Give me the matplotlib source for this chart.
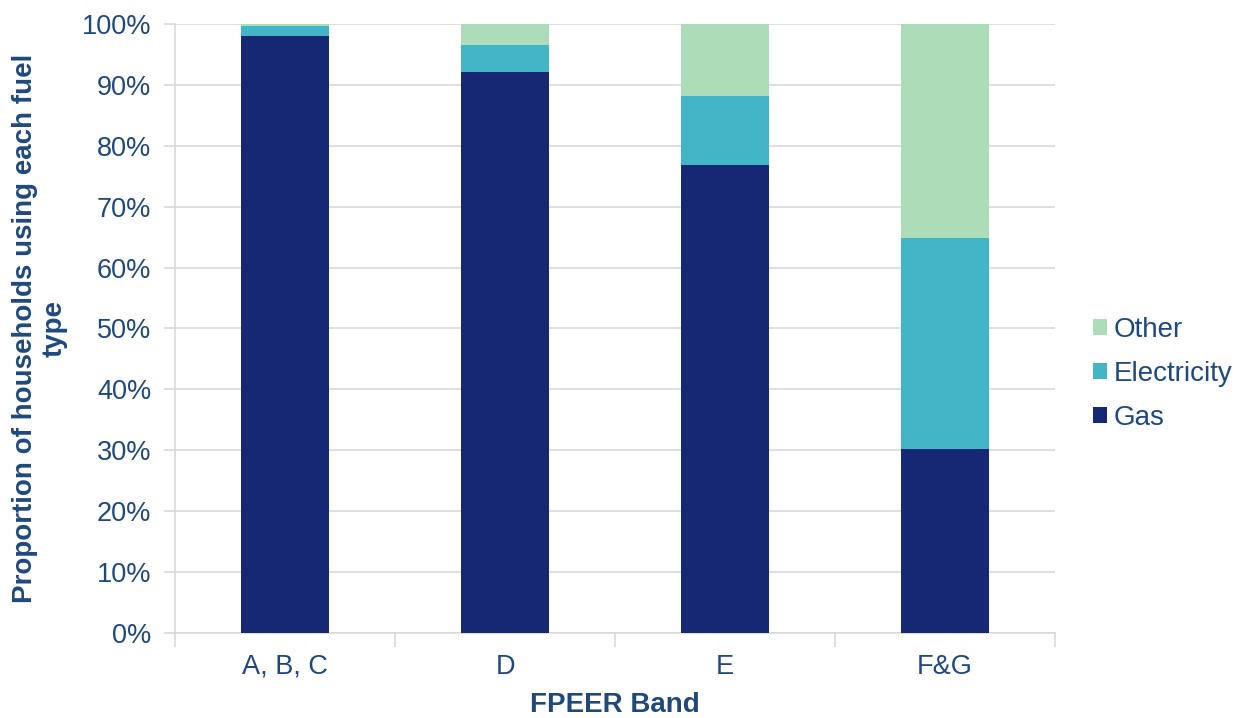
import numpy as np
import matplotlib
matplotlib.use('Agg')
import matplotlib.pyplot as plt
import matplotlib.ticker as ticker

bands = ['A, B, C', 'D', 'E', 'F&G']
gas = [98.1, 92.1, 76.8, 30.2]
electricity = [1.6, 4.4, 11.3, 34.7]
other = [0.3, 3.5, 11.9, 35.1]

c_gas = '#162873'
c_elec = '#42B6C6'
c_other = '#ACDDB8'
txt = '#1F497D'
grid = '#D9D9D9'

plt.rcParams['font.family'] = ['Liberation Sans', 'DejaVu Sans']

fig = plt.figure(figsize=(12.48, 7.18), dpi=100)
ax = fig.add_axes([0.1402, 0.1184, 0.7052, 0.8482])

x = np.arange(len(bands))
gas = np.array(gas)
electricity = np.array(electricity)
other = np.array(other)
w = 0.4
ax.bar(x, gas, w, color=c_gas, label='Gas', zorder=3)
ax.bar(x, electricity, w, bottom=gas, color=c_elec, label='Electricity', zorder=3)
ax.bar(x, other, w, bottom=gas + electricity, color=c_other, label='Other', zorder=3)

ax.set_xlim(-0.5, len(bands) - 0.5)
ax.set_ylim(0, 100)
ax.yaxis.set_major_locator(ticker.MultipleLocator(10))
ax.yaxis.set_major_formatter(ticker.FuncFormatter(lambda v, p: '%d%%' % v))
ax.set_xticks(x)
ax.set_xticklabels(bands)
ax.xaxis.set_minor_locator(ticker.FixedLocator(np.arange(-0.5, len(bands), 1)))
ax.tick_params(axis='x', which='major', length=0, pad=15, labelsize=19.5, labelcolor=txt)
ax.tick_params(axis='x', which='minor', length=10, color=grid, width=1.2)
ax.tick_params(axis='y', length=8, color=grid, width=1.2, pad=9, labelsize=19.5, labelcolor=txt)

ax.grid(axis='y', color=grid, linewidth=1.2, zorder=0)
for s in ['top', 'right']:
    ax.spines[s].set_visible(False)
for s in ['left', 'bottom']:
    ax.spines[s].set_color(grid)
    ax.spines[s].set_linewidth(1.2)

ax.set_ylabel('Proportion of households using each fuel\ntype', fontsize=20,
              fontweight='bold', color=txt)
ax.yaxis.set_label_coords(-0.122, 0.5)
ax.set_xlabel('FPEER Band', fontsize=20, fontweight='bold', color=txt, labelpad=9)

h, l = ax.get_legend_handles_labels()
leg = ax.legend(h[::-1], l[::-1], loc='center left', bbox_to_anchor=(1.015, 0.425),
                frameon=False, fontsize=20, handlelength=0.5, handleheight=0.5,
                handletextpad=0.25, labelspacing=0.65)
for t in leg.get_texts():
    t.set_color(txt)

fig.savefig('out.png', dpi=100)
